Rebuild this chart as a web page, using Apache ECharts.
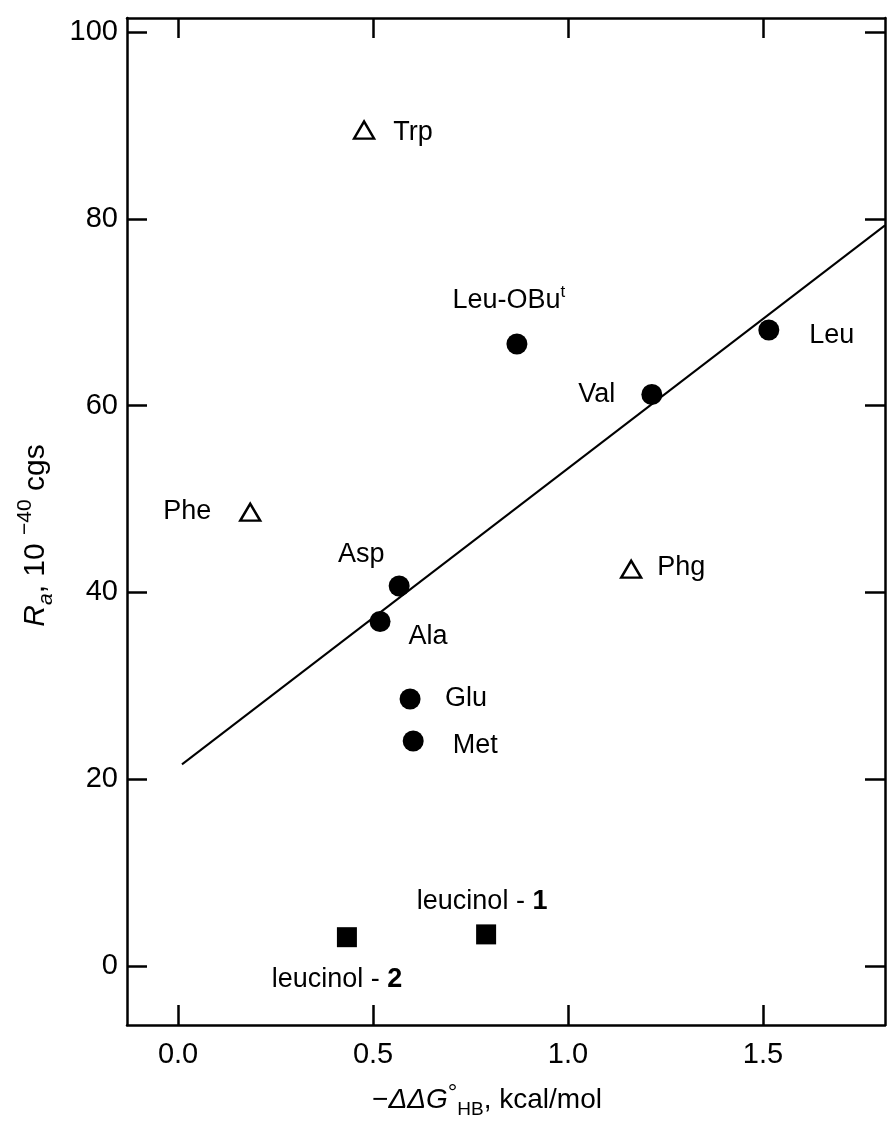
<!DOCTYPE html>
<html><head><meta charset="utf-8">
<script src="https://cdn.jsdelivr.net/npm/echarts@6/dist/echarts.min.js"></script>
<style>html,body{margin:0;padding:0;background:#fff}#c{width:888px;height:1125px}</style>
</head><body><div id="c"></div>
<script>
// ---- data ----
const circleNames = ['Leu-OBu^t', 'Val', 'Leu', 'Asp', 'Ala', 'Glu', 'Met'];
const circleX = [0.869, 1.215, 1.515, 0.567, 0.518, 0.595, 0.603];
const circleY = [66.6, 61.2, 68.1, 40.7, 36.9, 28.6, 24.1];
const triangleNames = ['Trp', 'Phe', 'Phg'];
const triangleX = [0.477, 0.185, 1.162];
const triangleY = [89.5, 48.6, 42.5];
const squareNames = ['leucinol - 1', 'leucinol - 2'];
const squareX = [0.790, 0.433];
const squareY = [3.4, 3.1];
const fitLineX = [0.01, 1.813];
const fitLineY = [21.6, 79.3];
const xTicks = [0, 0.5, 1.0, 1.5];
const yTicks = [0, 20, 40, 60, 80, 100];

// ---- label placement (layout only) ----
const labelOffsets = {
  'Leu-OBu^t': [-8, -43], 'Val': [-55, 0], 'Leu': [63, 6], 'Asp': [-38, -31],
  'Ala': [48, 15], 'Glu': [56, 0], 'Met': [62, 5],
  'Trp': [49, 2], 'Phe': [-63, -1], 'Phg': [50, -2],
  'leucinol - 1': [-4, -33], 'leucinol - 2': [-10, 42]
};

const FONT = 'Liberation Sans';
const labelRich = {
  n: {fontFamily: FONT, fontSize: 27, color: '#000', lineHeight: 34},
  sup: {fontFamily: FONT, fontSize: 17, color: '#000', verticalAlign: 'top'},
  b: {fontFamily: FONT, fontSize: 27, color: '#000', fontWeight: 'bold', lineHeight: 34}
};
function labelText(name) {
  if (name === 'Leu-OBu^t') return '{n|Leu-OBu}{sup|t}';
  const m = name.match(/^(leucinol - )(\d)$/);
  if (m) return '{n|' + m[1] + '}{b|' + m[2] + '}';
  return '{n|' + name + '}';
}
function buildPoints(names, xs, ys) {
  return names.map((nm, i) => ({
    value: [xs[i], ys[i]],
    name: nm,
    label: {show: true, position: 'inside', offset: labelOffsets[nm], formatter: labelText(nm),
      rich: labelRich, color: '#000', opacity: 1}
  }));
}

const axisLineStyle = {color: '#000', width: 2.5};
const chart = echarts.init(document.getElementById('c'), null, {renderer: 'canvas'});
chart.setOption({
  animation: false,
  backgroundColor: '#fff',
  grid: {left: 127, right: 3, top: 18, bottom: 100, containLabel: false, outerBoundsMode: 'none'},
  xAxis: [{
    type: 'value', min: -0.131, max: 1.813, position: 'bottom',
    axisLine: {show: true, onZero: false, lineStyle: axisLineStyle},
    axisTick: {show: true, inside: true, length: 20, customValues: xTicks, lineStyle: {color: '#000', width: 2.5}},
    axisLabel: {show: true, customValues: xTicks, margin: 15, fontFamily: FONT, fontSize: 29, color: '#000',
      formatter: v => v.toFixed(1)},
    splitLine: {show: false},
    name: '{n|−}{i|ΔΔG}{sup|°}{sub|HB}{n|, kcal/mol}',
    nameLocation: 'middle', nameGap: 56, nameMoveOverlap: false,
    nameTextStyle: {
      padding: [0, 38, 0, 0],
      rich: {
        n: {fontFamily: FONT, fontSize: 28, color: '#000', lineHeight: 38},
        i: {fontFamily: FONT, fontSize: 28, color: '#000', fontStyle: 'italic', lineHeight: 38},
        sup: {fontFamily: FONT, fontSize: 24, color: '#000', verticalAlign: 'top'},
        sub: {fontFamily: FONT, fontSize: 19, color: '#000', verticalAlign: 'bottom'}
      }
    }
  }, {
    type: 'value', min: -0.131, max: 1.813, position: 'top',
    axisLine: {show: true, onZero: false, lineStyle: axisLineStyle},
    axisTick: {show: true, inside: true, length: 20, customValues: xTicks, lineStyle: {color: '#000', width: 2.5}},
    axisLabel: {show: false},
    splitLine: {show: false}
  }],
  yAxis: [{
    type: 'value', min: -6.3, max: 101.5, position: 'left',
    axisLine: {show: true, onZero: false, lineStyle: axisLineStyle},
    axisTick: {show: true, inside: true, length: 20, customValues: yTicks, lineStyle: {color: '#000', width: 2.5}},
    axisLabel: {show: true, customValues: yTicks, margin: 9, fontFamily: FONT, fontSize: 29, color: '#000'},
    splitLine: {show: false},
    name: '{i|R}{sub|a}{n|, 10 }{sup|−40}{n| cgs}',
    nameLocation: 'middle', nameRotate: 90, nameGap: 70, nameMoveOverlap: false,
    nameTextStyle: {
      padding: [0, 28, 0, 0],
      rich: {
        n: {fontFamily: FONT, fontSize: 30, color: '#000', lineHeight: 42},
        i: {fontFamily: FONT, fontSize: 30, color: '#000', fontStyle: 'italic', lineHeight: 42},
        sup: {fontFamily: FONT, fontSize: 21, color: '#000', verticalAlign: 'top'},
        sub: {fontFamily: FONT, fontSize: 21, color: '#000', fontStyle: 'italic', verticalAlign: 'bottom'}
      }
    }
  }, {
    type: 'value', min: -6.3, max: 101.5, position: 'right',
    axisLine: {show: true, onZero: false, lineStyle: axisLineStyle},
    axisTick: {show: true, inside: true, length: 20, customValues: yTicks, lineStyle: {color: '#000', width: 2.5}},
    axisLabel: {show: false},
    splitLine: {show: false}
  }],
  series: [{
    type: 'line', xAxisIndex: 0, yAxisIndex: 0,
    data: fitLineX.map((x, i) => [x, fitLineY[i]]),
    symbol: 'none', lineStyle: {color: '#000', width: 2, opacity: 1}, z: 1, silent: true
  }, {
    type: 'scatter', xAxisIndex: 0, yAxisIndex: 0,
    data: buildPoints(circleNames, circleX, circleY),
    symbol: 'circle', symbolSize: 21,
    itemStyle: {color: '#000', opacity: 1}, z: 3
  }, {
    type: 'scatter', xAxisIndex: 0, yAxisIndex: 0,
    data: buildPoints(triangleNames, triangleX, triangleY),
    symbol: 'triangle', symbolSize: [20, 17],
    itemStyle: {color: '#fff', borderColor: '#000', borderWidth: 2.4, opacity: 1}, z: 3
  }, {
    type: 'scatter', xAxisIndex: 0, yAxisIndex: 0,
    data: buildPoints(squareNames, squareX, squareY),
    symbol: 'rect', symbolSize: 20,
    itemStyle: {color: '#000', opacity: 1}, z: 3
  }]
});
</script>
</body></html>
